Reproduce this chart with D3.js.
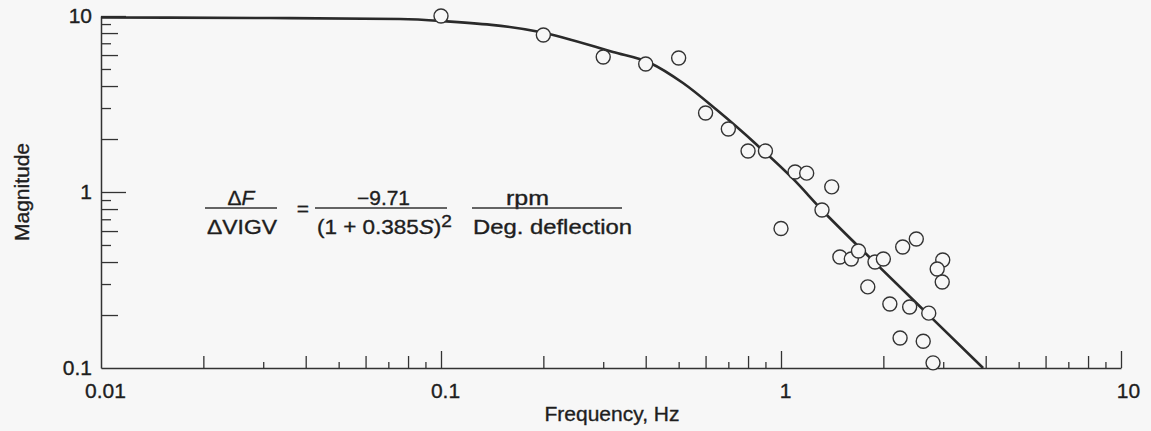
<!DOCTYPE html>
<html>
<head>
<meta charset="utf-8">
<script src="https://cdn.jsdelivr.net/npm/d3@7"></script>
<style>
  html, body { margin: 0; padding: 0; background: #f7f7f7; }
  svg { display: block; }
  text { font-family: "Liberation Sans", Arial, Helvetica, sans-serif; fill: #1e1e1e; stroke: #1e1e1e; stroke-width: 0.35px; }
</style>
</head>
<body>
<svg id="chart" width="1151" height="431"></svg>
<script>
// ---- Data ----
const measuredFreq = [0.1, 0.2, 0.3, 0.4, 0.5, 0.6, 0.7, 0.8, 0.9, 1.1, 1.19, 1.41, 1.32, 1.0,
  1.49, 1.61, 1.69, 1.89, 2.0, 2.28, 2.5, 2.99, 2.88, 2.98, 1.80, 2.09, 2.39, 2.72, 2.24, 2.62, 2.80];
const measuredMag = [10.0, 7.8, 5.85, 5.34, 5.77, 2.81, 2.28, 1.71, 1.71, 1.30, 1.28, 1.07, 0.79, 0.62,
  0.427, 0.416, 0.462, 0.400, 0.416, 0.487, 0.541, 0.411, 0.365, 0.308, 0.289, 0.231, 0.222, 0.205, 0.148, 0.142, 0.107];

const fitFreq = [0.01, 0.0314, 0.0757, 0.1, 0.1955, 0.3206, 0.412, 0.515, 0.648, 0.85, 1.084, 1.32, 1.87, 2.74, 3.93];
const fitMag  = [9.80, 9.74, 9.61, 9.37, 8.11, 6.24, 5.41, 4.16, 2.92, 1.85, 1.19, 0.79, 0.405, 0.197, 0.1];

const xDecades = [0.01, 0.1, 1, 10];
const xTickLabels = ["0.01", "0.1", "1", "10"];
const yDecades = [0.1, 1, 10];
const yTickLabels = ["0.1", "1", "10"];
const xTitle = "Frequency, Hz";
const yTitle = "Magnitude";

// ---- Layout ----
const svg = d3.select("#chart");
const x = d3.scaleLog().domain([0.01, 10]).range([101, 1121]);
const y = d3.scaleLog().domain([0.1, 10]).range([368, 16]);
const ink = "#333";

function mantissa(v) { return Math.round(v / Math.pow(10, Math.floor(Math.log10(v) + 1e-9))); }
function allTicks(lo, hi) {
  const t = [];
  for (let d = lo; d < hi * 1.0001; d *= 10) {
    for (let m = 1; m <= 9; m++) { const v = d * m; if (v <= hi * 1.0001) t.push(+v.toPrecision(3)); }
  }
  return t;
}

// X axis (ticks pointing up)
const xAll = allTicks(0.01, 10);
const xAxis = d3.axisBottom(x).tickValues(xAll).tickSize(0).tickPadding(14)
  .tickFormat(v => { const i = xDecades.findIndex(d => Math.abs(d - v) < 1e-9); return i >= 0 ? xTickLabels[i] : ""; });
const gx = svg.append("g").attr("transform", "translate(0,368)").call(xAxis);
gx.select(".domain").attr("stroke", ink).attr("stroke-width", 1.5);
gx.selectAll(".tick line").attr("stroke", ink).attr("stroke-width", 1.3)
  .attr("y2", v => { const m = mantissa(v); return m === 1 ? -17 : (m % 2 === 0 ? -12 : -6); })
  .filter(v => Math.abs(v - 0.01) < 1e-9).remove();
gx.selectAll(".tick text").attr("font-size", 21).attr("fill", "#1e1e1e")
  .attr("y", 30).attr("dy", 0).attr("dx", v => (Math.abs(v - 10) < 1e-9 ? 7 : 4));

// Y axis (ticks pointing right)
const yAll = allTicks(0.1, 10);
const yAxis = d3.axisLeft(y).tickValues(yAll).tickSize(0).tickPadding(9)
  .tickFormat(v => { const i = yDecades.findIndex(d => Math.abs(d - v) < 1e-9); return i >= 0 ? yTickLabels[i] : ""; });
const gy = svg.append("g").attr("transform", "translate(101,0)").call(yAxis);
gy.select(".domain").attr("stroke", ink).attr("stroke-width", 1.5);
gy.selectAll(".tick line").attr("stroke", ink).attr("stroke-width", 1.3)
  .attr("x2", v => { const m = mantissa(v); return m === 1 ? 25 : (m % 2 === 0 ? 17 : 10); })
  .filter(v => Math.abs(v - 0.1) < 1e-9).remove();
gy.selectAll(".tick text").attr("font-size", 21).attr("fill", "#1e1e1e");
svg.selectAll(".domain").attr("fill", "none");

// Axis titles
svg.append("text").attr("x", 612).attr("y", 421).attr("text-anchor", "middle")
  .attr("font-size", 21).text(xTitle);
svg.append("text").attr("transform", "translate(29,192) rotate(-90)").attr("text-anchor", "middle")
  .attr("font-size", 21).text(yTitle);

// Fitted curve
const line = d3.line().x(d => x(d[0])).y(d => y(d[1])).curve(d3.curveMonotoneX);
svg.append("path").datum(fitFreq.map((f, i) => [f, fitMag[i]]))
  .attr("d", line).attr("fill", "none").attr("stroke", "#2a2a2a").attr("stroke-width", 2.6);

// Measured points
svg.append("g").selectAll("circle").data(measuredFreq.map((f, i) => [f, measuredMag[i]]))
  .join("circle").attr("cx", d => x(d[0])).attr("cy", d => y(d[1])).attr("r", 7)
  .attr("fill", "#f7f7f7").attr("stroke", "#333").attr("stroke-width", 1.4);

// Formula annotation
const fz = 20;
const eq = svg.append("g");
function fracLine(x1, x2) { eq.append("line").attr("x1", x1).attr("x2", x2).attr("y1", 208).attr("y2", 208).attr("stroke", ink).attr("stroke-width", 1.3); }
const t1 = eq.append("text").attr("x", 241).attr("y", 205).attr("text-anchor", "middle").attr("font-size", 21);
t1.append("tspan").text("Δ"); t1.append("tspan").attr("font-style", "italic").text("F");
fracLine(205, 277);
eq.append("text").attr("x", 207).attr("y", 234).attr("font-size", fz)
  .attr("textLength", 70).attr("lengthAdjust", "spacingAndGlyphs").text("ΔVIGV");
eq.append("text").attr("x", 303).attr("y", 216).attr("text-anchor", "middle").attr("font-size", 21).text("=");
eq.append("text").attr("x", 357).attr("y", 205).attr("font-size", fz)
  .attr("textLength", 53).attr("lengthAdjust", "spacingAndGlyphs").text("\u22129.71");
fracLine(315, 447);
const t2 = eq.append("text").attr("x", 317).attr("y", 234).attr("font-size", fz)
  .attr("textLength", 135).attr("lengthAdjust", "spacingAndGlyphs");
t2.append("tspan").text("(1 + 0.385");
t2.append("tspan").attr("font-style", "italic").text("S");
t2.append("tspan").text(")");
t2.append("tspan").attr("dy", -7).attr("font-size", 17).text("2");
eq.append("text").attr("x", 506).attr("y", 205).attr("font-size", fz)
  .attr("textLength", 43).attr("lengthAdjust", "spacingAndGlyphs").text("rpm");
fracLine(472, 622);
eq.append("text").attr("x", 473).attr("y", 234).attr("font-size", fz)
  .attr("textLength", 159).attr("lengthAdjust", "spacingAndGlyphs").text("Deg. deflection");
</script>
</body>
</html>
